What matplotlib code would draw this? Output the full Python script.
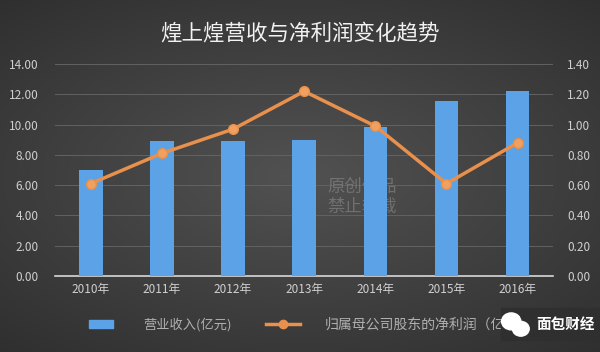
import numpy as np
import matplotlib
matplotlib.use("Agg")
import matplotlib.pyplot as plt
from matplotlib.patches import Rectangle, Ellipse
from matplotlib.lines import Line2D

plt.rcParams['font.family'] = ['Noto Sans CJK SC', 'DejaVu Sans']

years = ['2010年', '2011年', '2012年', '2013年', '2014年', '2015年', '2016年']
revenue = [7.0, 8.9, 8.95, 8.98, 9.86, 11.58, 12.24]       # 营业收入(亿元)
net_profit = [0.61, 0.81, 0.97, 1.22, 0.99, 0.61, 0.88]    # 净利润(亿元)
left_ticks = [0, 2, 4, 6, 8, 10, 12, 14]
right_ticks = [0, 0.2, 0.4, 0.6, 0.8, 1.0, 1.2, 1.4]

fig = plt.figure(figsize=(6, 3.52), dpi=100)

# dark vignette background
bg = fig.add_axes([0, 0, 1, 1], zorder=-10)
yy, xx = np.mgrid[-1:1:200j, -1:1:340j]
r = np.sqrt(xx ** 2 * 0.8 + yy ** 2)
shade = 0.32 - 0.10 * np.clip(r, 0, 1.4)
bg.imshow(np.dstack([shade] * 3), aspect='auto', extent=[0, 1, 0, 1])
bg.axis('off')

ax = fig.add_axes([0.092, 0.216, 0.83, 0.602])
ax.patch.set_alpha(0)
x = np.arange(len(years))
ax.bar(x, revenue, width=0.33, color='#5ba3e6', zorder=3)
ax.set_xlim(-0.5, 6.5)
ax.set_ylim(0, 14)
ax.set_yticks(left_ticks)
ax.set_yticklabels([f'{v:.2f}' for v in left_ticks])
ax.set_xticks(x)
ax.set_xticklabels(years)
ax.grid(axis='y', color='#626262', linewidth=0.7, zorder=0)
for s in ['top', 'left', 'right']:
    ax.spines[s].set_visible(False)
ax.spines['bottom'].set_color('#d8d8d8')
ax.spines['bottom'].set_linewidth(1.2)
ax.tick_params(axis='both', length=0, colors='#d0d0d0', labelsize=8.5)
ax.tick_params(axis='x', pad=5)
ax.tick_params(axis='y', pad=12)

# faint watermark behind the bars
ax.text(0.545, 0.44, '原创作品\n禁止转载', color='#8a8a8a', alpha=0.6, fontsize=12.5,
        linespacing=1.1, va='center', transform=fig.transFigure, zorder=2)

ax2 = ax.twinx()
ax2.plot(x, net_profit, color='#e8904c', linewidth=2.5, marker='o', markersize=7,
         markerfacecolor='#f0a060', markeredgecolor='#e8904c', zorder=5)
ax2.set_ylim(0, 1.4)
ax2.set_yticks(right_ticks)
ax2.set_yticklabels([f'{v:.2f}' for v in right_ticks])
for s in ['top', 'left', 'right', 'bottom']:
    ax2.spines[s].set_visible(False)
ax2.tick_params(axis='y', length=0, colors='#d0d0d0', labelsize=8.5, pad=10)

fig.text(0.5, 0.905, '煌上煌营收与净利润变化趋势', color='#f2f2f2', fontsize=15.5,
         ha='center', va='center')

# legend
fig.patches.append(Rectangle((0.148, 0.068), 0.04, 0.022, transform=fig.transFigure,
                             color='#5ba3e6'))
fig.text(0.238, 0.079, '营业收入(亿元)', color='#b0b0b0', fontsize=9.5, va='center')
fig.lines.append(Line2D([0.443, 0.5], [0.079, 0.079], transform=fig.transFigure,
                        color='#e8904c', linewidth=2.5))
fig.lines.append(Line2D([0.4715], [0.079], transform=fig.transFigure, color='#e8904c',
                        marker='o', markersize=6))
fig.text(0.542, 0.079, '归属母公司股东的净利润（亿元）', color='#b0b0b0', fontsize=10,
         va='center')

# wechat mark, covering the end of the legend text
fig.patches.append(Rectangle((0.835, 0.035), 0.165, 0.09, transform=fig.transFigure,
                             color='#2f2f2f', zorder=5))
fig.patches.append(Ellipse((0.852, 0.087), 0.032, 0.048, transform=fig.transFigure,
                           color='white', zorder=6))
fig.patches.append(Ellipse((0.868, 0.066), 0.028, 0.042, transform=fig.transFigure,
                           color='white', zorder=6))
fig.text(0.893, 0.079, '面包财经', color='white', fontsize=10.5, fontweight='bold',
         va='center', zorder=7)

fig.savefig('out.png', dpi=100)
